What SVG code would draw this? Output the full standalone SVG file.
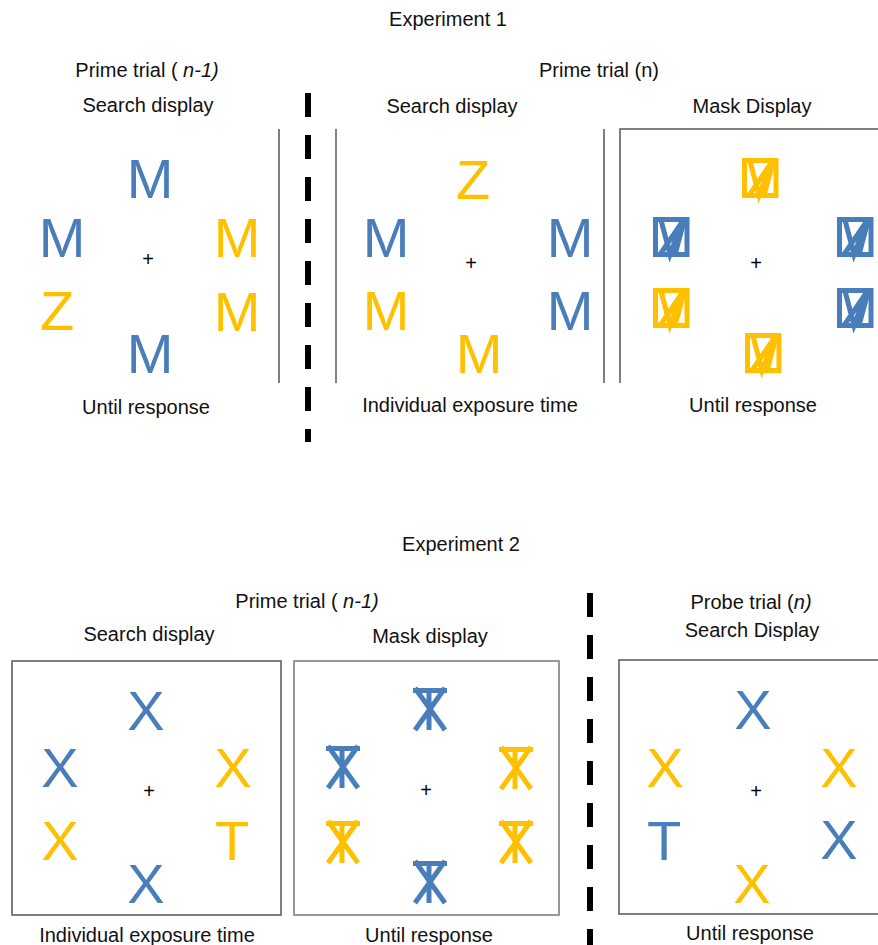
<svg xmlns="http://www.w3.org/2000/svg" width="878" height="945" viewBox="0 0 878 945">
<style>
.lbl{font-family:"Liberation Sans",Arial,sans-serif;font-size:20px;fill:#111;text-anchor:middle}
.big{font-family:"Liberation Sans",Arial,sans-serif;font-size:56px;text-anchor:middle}
.plus{font-family:"Liberation Sans",Arial,sans-serif;font-size:20px;fill:#000;text-anchor:middle}
.b{fill:#4A7EBB}
.y{fill:#FFC000}
.frame{fill:none;stroke:#555;stroke-width:1.5}
.dash{fill:none;stroke:#000;stroke-width:6;stroke-dasharray:24 18}
.mb{color:#4A7EBB}
.my{color:#FFC000}
</style>
<defs>
<g id="mz" fill="none" stroke="currentColor" stroke-width="5">
<rect x="2.5" y="2.5" width="31.5" height="35"/>
<path d="M8 3 L17 37.5 L30 3 M30.5 3 L7 37.5 M22 37.5 L31 4"/>
</g>
<g id="xt" fill="none" stroke="currentColor" stroke-width="5">
<path d="M3 0 L33 42 M33 0 L3 42 M1 2.5 H35 M17 0 V42"/>
</g>
</defs>
<rect width="878" height="945" fill="#fff"/>

<g id="titles">
<text class="lbl" x="448" y="26">Experiment 1</text>
<text class="lbl" x="461" y="551">Experiment 2</text>
</g>

<g id="dividers">
<line class="dash" x1="308" y1="93" x2="308" y2="442"/>
<line class="dash" x1="590" y1="593" x2="590" y2="945"/>
</g>

<g id="exp1-prime-search">
<text class="lbl" x="147" y="77">Prime trial ( <tspan font-style="italic">n-1)</tspan></text>
<text class="lbl" x="148" y="112">Search display</text>
<line class="frame" x1="279" y1="129" x2="279" y2="383"/>
<text class="big b" x="150" y="198">M</text>
<text class="big b" x="62" y="257">M</text>
<text class="big y" x="237" y="257">M</text>
<text class="big y" x="57" y="330">Z</text>
<text class="big y" x="237" y="331">M</text>
<text class="big b" x="150" y="373">M</text>
<text class="plus" x="148" y="266">+</text>
<text class="lbl" x="146" y="414">Until response</text>
</g>

<g id="exp1-n-search">
<text class="lbl" x="599" y="77">Prime trial (n)</text>
<text class="lbl" x="452" y="113">Search display</text>
<line class="frame" x1="336" y1="129" x2="336" y2="383"/>
<line class="frame" x1="604" y1="129" x2="604" y2="383"/>
<text class="big y" x="473" y="199">Z</text>
<text class="big b" x="386" y="257">M</text>
<text class="big b" x="570" y="257">M</text>
<text class="big y" x="386" y="330">M</text>
<text class="big b" x="570" y="330">M</text>
<text class="big y" x="479" y="373">M</text>
<text class="plus" x="471" y="270">+</text>
<text class="lbl" x="470" y="412">Individual exposure time</text>
</g>

<g id="exp1-n-mask">
<text class="lbl" x="752" y="113">Mask Display</text>
<path class="frame" d="M620 383 V129 H880"/>
<use href="#mz" class="my" x="742" y="158"/>
<use href="#mz" class="mb" x="653" y="217"/>
<use href="#mz" class="mb" x="837" y="217"/>
<use href="#mz" class="my" x="653" y="288"/>
<use href="#mz" class="mb" x="837" y="288"/>
<use href="#mz" class="my" x="745" y="333"/>
<text class="plus" x="756" y="270">+</text>
<text class="lbl" x="753" y="412">Until response</text>
</g>

<g id="exp2-prime-search">
<text class="lbl" x="307" y="608">Prime trial ( <tspan font-style="italic">n-1)</tspan></text>
<text class="lbl" x="149" y="641">Search display</text>
<rect class="frame" x="12" y="661" width="269" height="254"/>
<text class="big b" x="146" y="730">X</text>
<text class="big b" x="60" y="787">X</text>
<text class="big y" x="233" y="787">X</text>
<text class="big y" x="60" y="860">X</text>
<text class="big y" x="232" y="860">T</text>
<text class="big b" x="146" y="903">X</text>
<text class="plus" x="149" y="798">+</text>
<text class="lbl" x="147" y="942">Individual exposure time</text>
</g>

<g id="exp2-prime-mask">
<text class="lbl" x="430" y="643">Mask display</text>
<rect class="frame" x="294" y="661" width="265" height="254" style="stroke:#777"/>
<use href="#xt" class="mb" x="412" y="688"/>
<use href="#xt" class="mb" x="325" y="746"/>
<use href="#xt" class="my" x="498" y="747"/>
<use href="#xt" class="my" x="325" y="821"/>
<use href="#xt" class="my" x="498" y="821"/>
<use href="#xt" class="mb" x="412" y="861"/>
<text class="plus" x="426" y="797">+</text>
<text class="lbl" x="429" y="942">Until response</text>
</g>

<g id="exp2-probe-search">
<text class="lbl" x="751" y="609">Probe trial (<tspan font-style="italic">n)</tspan></text>
<text class="lbl" x="752" y="637">Search Display</text>
<path class="frame" d="M880 914 H619 V660 H880"/>
<text class="big b" x="753" y="729">X</text>
<text class="big y" x="665" y="787">X</text>
<text class="big y" x="839" y="787">X</text>
<text class="big b" x="664" y="860">T</text>
<text class="big b" x="839" y="859">X</text>
<text class="big y" x="752" y="903">X</text>
<text class="plus" x="756" y="798">+</text>
<text class="lbl" x="750" y="940">Until response</text>
</g>
</svg>
